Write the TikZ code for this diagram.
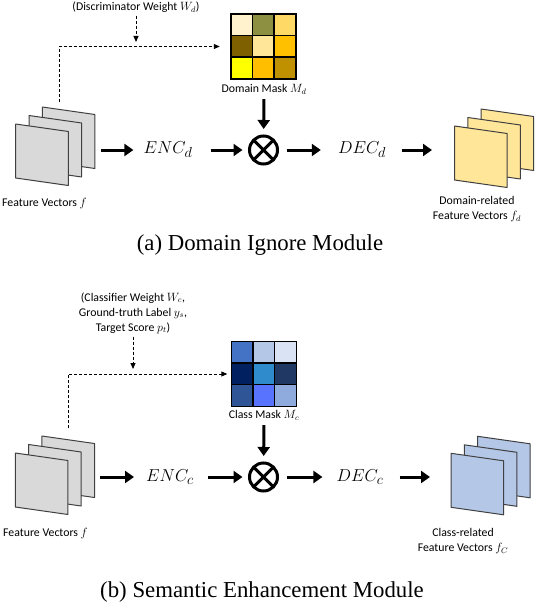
\documentclass[tikz,border=0pt]{standalone}
\usepackage{amsmath}
\usepackage{fontspec}
\setmainfont{Carlito}
\newfontfamily\capfont{Liberation Serif}
\usetikzlibrary{arrows.meta}

% mask colours, rows top to bottom
\definecolor{dm11}{HTML}{FFF2CC}\definecolor{dm12}{HTML}{8C9040}\definecolor{dm13}{HTML}{FFD966}
\definecolor{dm21}{HTML}{7F6000}\definecolor{dm22}{HTML}{FFE699}\definecolor{dm23}{HTML}{FFC000}
\definecolor{dm31}{HTML}{FFFF00}\definecolor{dm32}{HTML}{FFBF00}\definecolor{dm33}{HTML}{BF9000}
\definecolor{cm11}{HTML}{4472C4}\definecolor{cm12}{HTML}{B4C7E7}\definecolor{cm13}{HTML}{DAE3F3}
\definecolor{cm21}{HTML}{002060}\definecolor{cm22}{HTML}{2F8BCC}\definecolor{cm23}{HTML}{203864}
\definecolor{cm31}{HTML}{2F5597}\definecolor{cm32}{HTML}{5874FF}\definecolor{cm33}{HTML}{8FAADC}
\definecolor{sheetgray}{HTML}{D9D9D9}
\definecolor{sheetgold}{HTML}{FFE699}
\definecolor{sheetblue}{HTML}{B4C7E7}

\tikzset{
	lbl/.style={font=\fontsize{11.8}{15}\selectfont, inner sep=1pt, align=center},
	capt/.style={font=\capfont\fontsize{22.8}{26}\selectfont, inner sep=0pt},
	codec/.style={font=\fontsize{19}{22}\selectfont, inner sep=0pt},
	mult/.style={circle, draw, line width=3pt, minimum size=28pt, inner sep=0pt, outer sep=0pt},
	flow/.style={-{Triangle[length=9pt,width=12pt]}, line width=3pt},
	hint/.style={-{Triangle[length=6pt,width=5pt]}, line width=0.9pt, dash pattern=on 3pt off 2pt},
	sheet/.style={draw=black!75, line width=1pt, line join=round}
}

% three stacked feature sheets, #1/#2 = front top-left, #3 = fill
\newcommand{\sheetstack}[3]{%
	\begin{scope}[shift={(#1,#2)}]
		\foreach \i in {2,1,0}
		\filldraw[sheet, fill=#3] (\i*13.3,-\i*8.5) -- ++(52.6,7.5) -- ++(0,54) -- ++(-52.6,-7.5) -- cycle;
	\end{scope}}

% 3x3 mask placed on the node #1, colours with prefix #2
\newcommand{\maskgrid}[2]{%
	\begin{scope}[shift={(#1.north west)}]
		\foreach \r in {1,2,3}
		\foreach \c in {1,2,3}
		\fill[#2\r\c] (\c*21.667-21.667,\r*21.667-21.667) rectangle ++(21.667,21.667);
		\foreach \t in {21.667,43.333}
		{\draw[line width=1.6pt] (\t,0) -- (\t,65);
			\draw[line width=1.6pt] (0,\t) -- (65,\t);}
		\draw[line width=1.6pt, line join=miter] (0,0) rectangle (65,65);
	\end{scope}}

\begin{document}
\begin{tikzpicture}[x=1pt, y=-1pt, line cap=butt]
	
	\useasboundingbox (0,0) rectangle (544,602);
	
	% (a) Domain Ignore Module
	\sheetstack{15.7}{124}{sheetgray}
	\sheetstack{454.5}{126}{sheetgold}
	\coordinate (fa) at (101,150);
	\coordinate (fa-top) at (59,102);
	\coordinate (ga) at (432,150);
	
	\node[lbl] (wa) at (136,7) {(Discriminator Weight $W_d$)};
	\node[minimum size=65pt, inner sep=0pt] (ma) at (263.5,46.5) {};
	\maskgrid{ma}{dm}
	\node[lbl] (lma) at (264,89) {Domain Mask $M_d$};
	\node[codec] (enca) at (168,150) {$ENC_d$};
	\node[mult] (oa) at (263.5,150) {};
	\draw[line width=3pt] (oa.north west) -- (oa.south east) (oa.north east) -- (oa.south west);
	\node[codec] (deca) at (362,150) {$DEC_d$};
	
	\node[lbl, anchor=west] (lfa) at (1,203) {Feature Vectors $f$};
	\node[lbl] (lga) at (477,209) {Domain-related\\Feature Vectors $f_d$};
	\node[capt] (capa) at (260,245) {(a) Domain Ignore Module};
	
	\draw[hint, shorten >=11pt] (fa-top) |- (ma.west);
	\draw[hint, shorten <=2pt, shorten >=4.5pt] (wa.south) -- (wa.south |- ma.west);
	\draw[flow, shorten >=10pt] (fa) -- (enca);
	\draw[flow, shorten <=18pt, shorten >=7pt] (enca) -- (oa);
	\draw[flow, shorten <=4pt, shorten >=7pt] (lma) -- (oa);
	\draw[flow, shorten <=9pt, shorten >=17pt] (oa) -- (deca);
	\draw[flow, shorten <=16pt] (deca) -- (ga);
	
	% (b) Semantic Enhancement Module
	\sheetstack{15.3}{453}{sheetgray}
	\sheetstack{451}{453.3}{sheetblue}
	\coordinate (fb) at (100,477);
	\coordinate (fb-top) at (68,428);
	\coordinate (gb) at (430,477);
	
	\node[lbl] (wb) at (133,313) {(Classifier Weight $W_c$,\\Ground-truth Label $y_s$,\\Target Score $p_t$)};
	\node[minimum size=65pt, inner sep=0pt] (mb) at (264,374) {};
	\maskgrid{mb}{cm}
	\node[lbl] (lmb) at (264,415) {Class Mask $M_c$};
	\node[codec] (encb) at (170,477) {$ENC_c$};
	\node[mult] (ob) at (263.5,477) {};
	\draw[line width=3pt] (ob.north west) -- (ob.south east) (ob.north east) -- (ob.south west);
	\node[codec] (decb) at (360,477) {$DEC_c$};
	
	\node[lbl, anchor=west] (lfb) at (2,533) {Feature Vectors $f$};
	\node[lbl] (lgb) at (463,541) {Class-related\\Feature Vectors $f_C$};
	\node[capt] (capb) at (262,592) {(b) Semantic Enhancement Module};
	
	\draw[hint, shorten >=4pt] (fb-top) |- (mb.west);
	\draw[hint, shorten <=2pt, shorten >=5pt] (wb.south) -- (wb.south |- mb.west);
	\draw[flow, shorten >=12pt] (fb) -- (encb);
	\draw[flow, shorten <=14pt, shorten >=7pt] (encb) -- (ob);
	\draw[flow, shorten <=4pt, shorten >=7pt] (lmb) -- (ob);
	\draw[flow, shorten <=9pt, shorten >=14pt] (ob) -- (decb);
	\draw[flow, shorten <=16pt] (decb) -- (gb);
	
\end{tikzpicture}
\end{document}
